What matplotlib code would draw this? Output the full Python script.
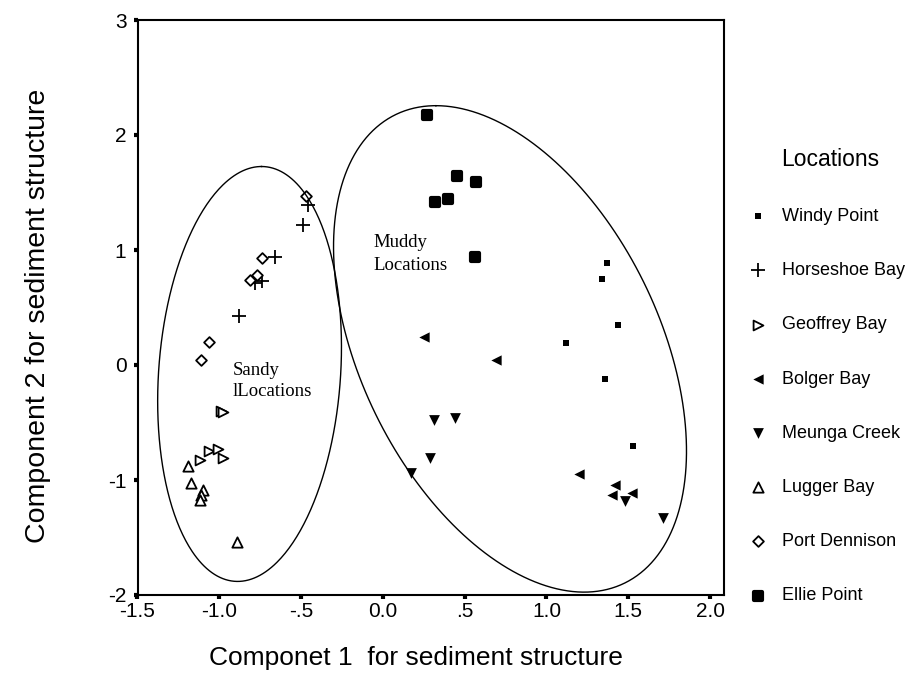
import numpy as np
import matplotlib
matplotlib.use("Agg")
import matplotlib.pyplot as plt
from matplotlib.markers import MarkerStyle

# Component scores (component 1 = x, component 2 = y)
windy_x = [1.37, 1.34, 1.44, 1.12, 1.36, 1.53]
windy_y = [0.89, 0.75, 0.35, 0.19, -0.12, -0.70]

horseshoe_x = [-0.46, -0.49, -0.66, -0.74, -0.78, -0.88]
horseshoe_y = [1.39, 1.22, 0.94, 0.73, 0.71, 0.43]

geoffrey_x = [-0.99, -0.98, -1.12, -1.06, -1.01, -0.98]
geoffrey_y = [-0.40, -0.41, -0.83, -0.75, -0.73, -0.81]

bolger_x = [0.25, 0.69, 1.20, 1.42, 1.40, 1.52]
bolger_y = [0.24, 0.04, -0.95, -1.04, -1.13, -1.11]

meunga_x = [0.31, 0.44, 0.29, 0.17, 1.48, 1.71]
meunga_y = [-0.48, -0.46, -0.81, -0.94, -1.18, -1.33]

lugger_x = [-1.19, -1.17, -1.10, -1.11, -1.12, -0.89]
lugger_y = [-0.88, -1.03, -1.09, -1.13, -1.17, -1.54]

dennison_x = [-0.47, -0.74, -0.77, -0.81, -1.06, -1.11]
dennison_y = [1.47, 0.93, 0.78, 0.74, 0.20, 0.04]

ellie_x = [0.27, 0.45, 0.57, 0.32, 0.40, 0.56]
ellie_y = [2.17, 1.64, 1.59, 1.42, 1.44, 0.94]

x_ticks = [-1.5, -1.0, -0.5, 0.0, 0.5, 1.0, 1.5, 2.0]
x_tick_labels = ["-1.5", "-1.0", "-.5", "0.0", ".5", "1.0", "1.5", "2.0"]
y_ticks = [-2, -1, 0, 1, 2, 3]
y_tick_labels = ["-2", "-1", "0", "1", "2", "3"]

# group ellipses: centre, conjugate half-axis vectors (data units)
sandy_c, sandy_v1, sandy_v2 = (-0.815, -0.078), (0.073, 1.804), (0.557, 0.0)
muddy_c, muddy_v1, muddy_v2 = (0.777, 0.14), (-0.453, 2.115), (0.979, 0.0)

sans = ["Liberation Sans", "DejaVu Sans"]
serif = ["Liberation Serif", "DejaVu Serif"]
plt.rcParams["font.family"] = sans

fig = plt.figure(figsize=(9.16, 6.92), dpi=100)
ax = fig.add_axes([137.5 / 916, 1 - 595 / 692, (724 - 137.5) / 916, (595 - 20) / 692])

round_sq = MarkerStyle("s", joinstyle="round")
ax.scatter(windy_x, windy_y, marker="s", s=25, c="black", linewidths=0, label="Windy Point")
ax.scatter(horseshoe_x, horseshoe_y, marker="+", s=100, c="black", linewidths=1.3, label="Horseshoe Bay")
ax.scatter(geoffrey_x, geoffrey_y, marker=">", s=50, facecolors="white", edgecolors="black",
           linewidths=1.3, label="Geoffrey Bay")
ax.scatter(bolger_x, bolger_y, marker="<", s=55, c="black", linewidths=0, label="Bolger Bay")
ax.scatter(meunga_x, meunga_y, marker="v", s=60, c="black", linewidths=0, label="Meunga Creek")
ax.scatter(lugger_x, lugger_y, marker="^", s=55, facecolors="white", edgecolors="black",
           linewidths=1.3, label="Lugger Bay")
ax.scatter(dennison_x, dennison_y, marker="D", s=30, facecolors="white", edgecolors="black",
           linewidths=1.3, label="Port Dennison")
ax.scatter(ellie_x, ellie_y, marker=round_sq, s=40, c="black", edgecolors="black",
           linewidths=3, label="Ellie Point")

# ellipses around the sandy / muddy groups
t = np.linspace(0, 2 * np.pi, 400)
for c, v1, v2 in [(sandy_c, sandy_v1, sandy_v2), (muddy_c, muddy_v1, muddy_v2)]:
    ex = c[0] + v1[0] * np.cos(t) + v2[0] * np.sin(t)
    ey = c[1] + v1[1] * np.cos(t) + v2[1] * np.sin(t)
    ax.plot(ex, ey, color="black", lw=1.0)

ax.text(-0.92, -0.087, "Sandy", family=serif, fontsize=13.5, va="baseline")
ax.text(-0.92, -0.27, "lLocations", family=serif, fontsize=13.5, va="baseline")
ax.text(-0.056, 1.026, "Muddy", family=serif, fontsize=13.5, va="baseline")
ax.text(-0.056, 0.826, "Locations", family=serif, fontsize=13.5, va="baseline")

ax.set_xlim(-1.5, 2.085)
ax.set_ylim(-2, 3)
ax.set_xticks(x_ticks)
ax.set_xticklabels(x_tick_labels)
ax.set_yticks(y_ticks)
ax.set_yticklabels(y_tick_labels)
ax.tick_params(direction="out", length=3, width=3, labelsize=15, pad=5)
ax.tick_params(axis="x", pad=2)
for sp in ax.spines.values():
    sp.set_linewidth(1.5)

ax.set_xlabel("Componet 1  for sediment structure", fontsize=19)
ax.xaxis.set_label_coords(0.475, -0.088)
ax.set_ylabel("Component 2 for sediment structure", fontsize=20.5)
ax.yaxis.set_label_coords(-0.148, 0.485)

fig.text(781 / 916, 1 - 160 / 692, "Locations", fontsize=16.5, va="center")
ax.legend(loc="upper left", bbox_to_anchor=(749 / 916, 1 - 208 / 692),
          bbox_transform=fig.transFigure, frameon=False, fontsize=13,
          scatterpoints=1, markerscale=1.0, handlelength=1.0, handletextpad=0.83,
          labelspacing=2.06, borderpad=0, borderaxespad=0)

fig.savefig("out.png", dpi=100)
